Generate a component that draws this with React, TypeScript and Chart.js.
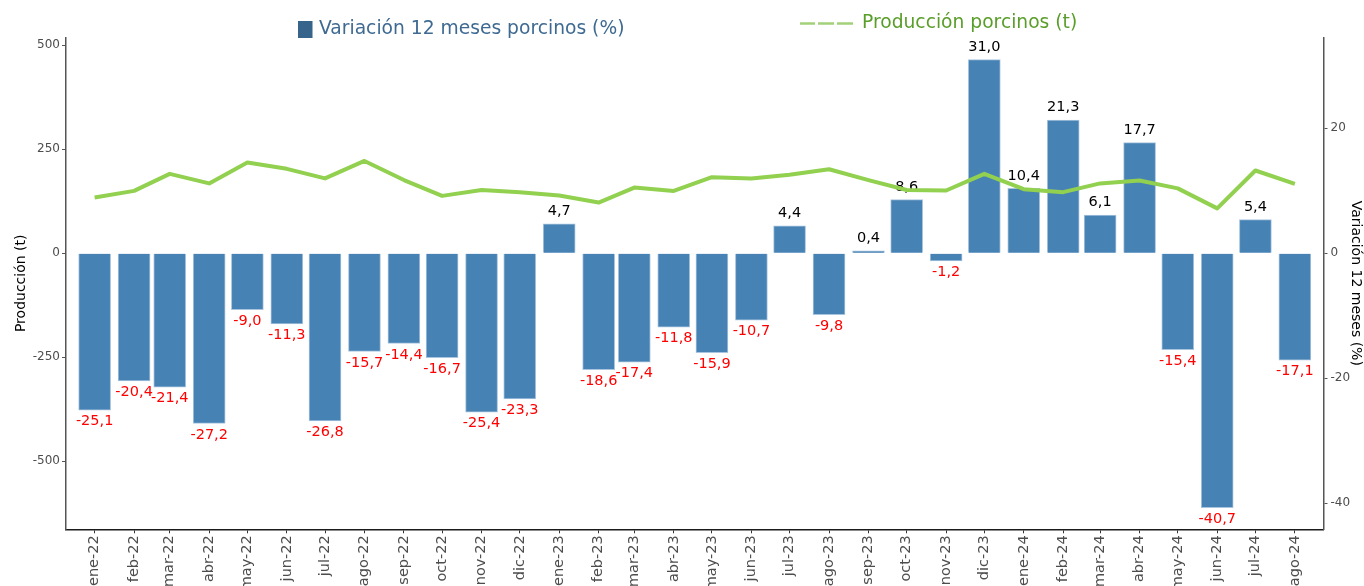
import React, { useEffect, useRef } from "react";
import { Chart, registerables } from "chart.js";

Chart.register(...registerables);

const categories = [
  "ene-22", "feb-22", "mar-22", "abr-22", "may-22", "jun-22", "jul-22", "ago-22", "sep-22", "oct-22", "nov-22", "dic-22",
  "ene-23", "feb-23", "mar-23", "abr-23", "may-23", "jun-23", "jul-23", "ago-23", "sep-23", "oct-23", "nov-23", "dic-23",
  "ene-24", "feb-24", "mar-24", "abr-24", "may-24", "jun-24", "jul-24", "ago-24",
];

const variacionPct = [
  -25.1, -20.4, -21.4, -27.2, -9.0, -11.3, -26.8, -15.7, -14.4, -16.7, -25.4, -23.3,
  4.7, -18.6, -17.4, -11.8, -15.9, -10.7, 4.4, -9.8, 0.4, 8.6, -1.2, 31.0,
  10.4, 21.3, 6.1, 17.7, -15.4, -40.7, 5.4, -17.1,
];

const produccion = [
  134, 150, 191, 168, 218, 203, 180, 222, 176, 138, 152, 147,
  139, 122, 158, 150, 183, 180, 189, 202, 176, 152, 151, 191,
  154, 147, 168, 175, 156, 108, 199, 167,
];

const leftTicks = [-500, -250, 0, 250, 500];
const rightTicks = [-40, -20, 0, 20];

const monthNames = ["ene", "feb", "mar", "abr", "may", "jun", "jul", "ago", "sep", "oct", "nov", "dic"];

function dayOf(label: string): number {
  const [m, y] = label.split("-");
  const mi = monthNames.indexOf(m);
  const yr = 2000 + parseInt(y, 10);
  return (Date.UTC(yr, mi, 1) - Date.UTC(2022, 0, 1)) / 86400000;
}

const xDays = categories.map(dayOf);

const FONT = "DejaVu Sans";
const fmt = (v: number) => v.toFixed(1).replace(".", ",");

const barLabelsPlugin = {
  id: "barLabels",
  afterDatasetDraw(chart: any, args: any) {
    if (args.index !== 0) return;
    const ctx = chart.ctx;
    const meta = chart.getDatasetMeta(0);
    ctx.save();
    ctx.font = `14.5px "${FONT}"`;
    ctx.textAlign = "center";
    ctx.textBaseline = "middle";
    meta.data.forEach((el: any, i: number) => {
      const v = variacionPct[i];
      if (v >= 0) {
        ctx.fillStyle = "#000000";
        ctx.fillText(fmt(v), el.x, el.y - 12.5);
      } else {
        ctx.fillStyle = "#ff0000";
        ctx.fillText(fmt(v), el.x, el.y + 11.5);
      }
    });
    ctx.restore();
  },
};

const legendPlugin = {
  id: "customLegend",
  afterDraw(chart: any) {
    const ctx = chart.ctx;
    ctx.save();
    ctx.textBaseline = "middle";
    ctx.textAlign = "left";
    ctx.font = `18.7px "${FONT}"`;
    ctx.fillStyle = "#36648B";
    ctx.fillRect(298, 21, 14.5, 17);
    ctx.fillStyle = "#3e6a92";
    ctx.fillText("Variación 12 meses porcinos (%)", 319, 29.5);

    ctx.strokeStyle = "#a2d17a";
    ctx.lineWidth = 2.5;
    const segs = [[800, 815], [818, 834], [837, 853]];
    segs.forEach(([a, b]) => {
      ctx.beginPath();
      ctx.moveTo(a, 23.5);
      ctx.lineTo(b, 23.5);
      ctx.stroke();
    });
    ctx.fillStyle = "#5a9e2a";
    ctx.fillText("Producción porcinos (t)", 862, 23);
    ctx.restore();
  },
};

export default function App() {
  const ref = useRef<HTMLCanvasElement | null>(null);

  useEffect(() => {
    if (!ref.current) return;
    const chart = new Chart(ref.current, {
      type: "bar",
      data: {
        datasets: [
          {
            type: "bar",
            label: "Variación 12 meses porcinos (%)",
            data: variacionPct.map((v, i) => ({ x: xDays[i], y: v })),
            yAxisID: "y1",
            xAxisID: "x",
            backgroundColor: "#4682B4",
            borderColor: "#a8c4de",
            borderWidth: 1,
            barThickness: 32,
            order: 2,
          } as any,
          {
            type: "line",
            label: "Producción porcinos (t)",
            data: produccion.map((v, i) => ({ x: xDays[i], y: v })),
            yAxisID: "y",
            xAxisID: "x",
            borderColor: "#92d050",
            borderWidth: 4,
            pointRadius: 0,
            tension: 0,
            borderJoinStyle: "round",
            order: 1,
          } as any,
        ],
      },
      options: {
        responsive: false,
        animation: false,
        layout: { padding: { top: 37.3, left: 0, right: 0, bottom: 0 } },
        plugins: {
          legend: { display: false },
          tooltip: { enabled: false },
        },
        scales: {
          x: {
            type: "linear",
            min: -22.5,
            max: 965.5,
            offset: false,
            afterBuildTicks: (scale: any) => {
              scale.ticks = xDays.map((d) => ({ value: d }));
            },
            afterFit: (scale: any) => {
              scale.height = 586 - 529.3;
            },
            ticks: {
              autoSkip: false,
              minRotation: 90,
              maxRotation: 90,
              padding: 2,
              color: "#4d4d4d",
              font: { family: FONT, size: 14.5 },
              callback: (value: any) => {
                const i = xDays.indexOf(Number(value));
                return i >= 0 ? categories[i] : "";
              },
            },
            grid: { offset: false, drawOnChartArea: false, drawTicks: true, tickLength: 4, color: "#333333", lineWidth: 1 },
            border: { display: true, color: "#1a1a1a", width: 1.5 },
          },
          y: {
            type: "linear",
            position: "left",
            min: -663.5,
            max: 519.2,
            afterBuildTicks: (scale: any) => {
              scale.ticks = leftTicks.map((v) => ({ value: v }));
            },
            afterFit: (scale: any) => {
              scale.width = 66;
            },
            ticks: {
              color: "#4d4d4d",
              padding: 2,
              font: { family: FONT, size: 12 },
              callback: (v: any) => String(v),
            },
            grid: { drawOnChartArea: false, drawTicks: true, tickLength: 4, color: "#555555" },
            border: { display: true, color: "#555555", width: 1.5 },
            title: {
              display: true,
              text: "Producción (t)",
              color: "#000000",
              font: { family: FONT, size: 14 },
              padding: { top: 13, bottom: 0 },
            },
          },
          y1: {
            type: "linear",
            position: "right",
            min: -44.16,
            max: 34.56,
            afterBuildTicks: (scale: any) => {
              scale.ticks = rightTicks.map((v) => ({ value: v }));
            },
            afterFit: (scale: any) => {
              scale.width = 1364 - 1323.5;
            },
            ticks: {
              color: "#4d4d4d",
              padding: 3,
              font: { family: FONT, size: 12 },
              callback: (v: any) => String(v),
            },
            grid: { drawOnChartArea: false, drawTicks: true, tickLength: 4, color: "#555555" },
            border: { display: true, color: "#555555", width: 1.5 },
            title: {
              display: true,
              text: "Variación 12 meses (%)",
              color: "#000000",
              font: { family: FONT, size: 14 },
              padding: { top: 0, bottom: 0 },
            },
          },
        },
      } as any,
      plugins: [barLabelsPlugin, legendPlugin],
    });
    return () => chart.destroy();
  }, []);

  return (
    <div style={{ position: "fixed", left: 0, top: 0, width: 1364, height: 586, overflow: "hidden", background: "#fff" }}>
      <canvas ref={ref} width={1364} height={586} style={{ display: "block", width: 1364, height: 586 }} />
    </div>
  );
}
